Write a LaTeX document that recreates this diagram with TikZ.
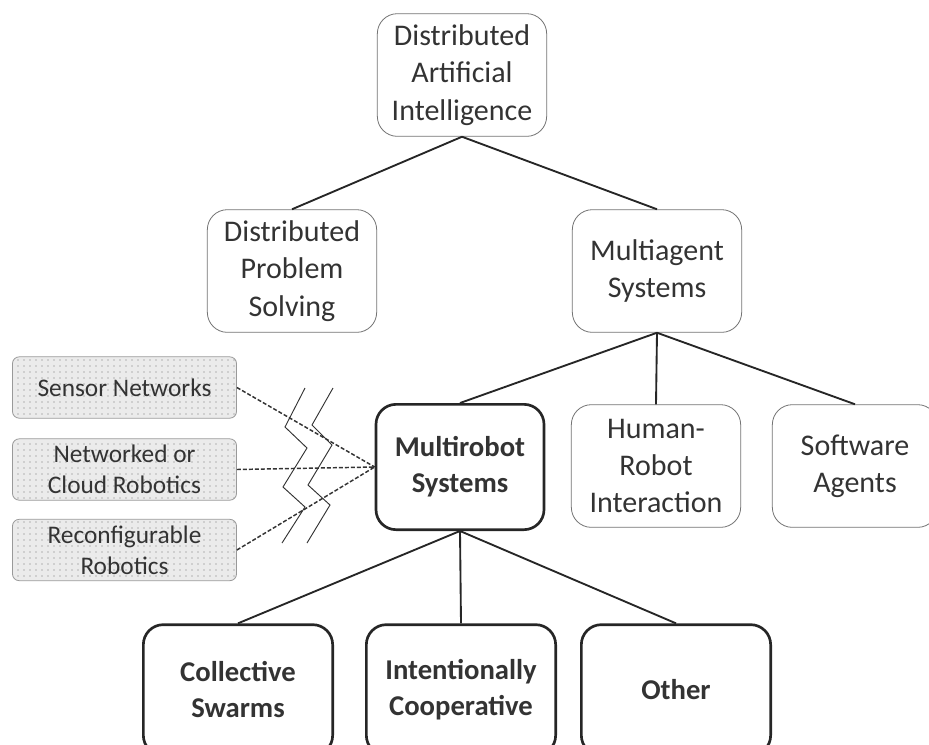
\documentclass[tikz,border=0pt]{standalone}
\usepackage{fontspec}
\setmainfont{Carlito}
\usetikzlibrary{patterns.meta}

\tikzset{
  softbox/.style={draw=black!55, line width=0.6pt, rounded corners=15pt, align=center,
    minimum width=127pt, minimum height=92pt, inner sep=0pt,
    font=\fontsize{22.5}{28}\selectfont, text=black!80},
  boldbox/.style={softbox, draw=black!85, line width=2pt, font=\fontsize{21.5}{27}\selectfont\bfseries},
  dotbox/.style={draw=black!40, line width=0.6pt, rounded corners=5pt, align=center,
    minimum width=168pt, minimum height=46pt, inner sep=0pt,
    preaction={fill=black!8}, pattern={Dots[distance=4.5pt,radius=0.5pt]}, pattern color=black!55,
    font=\fontsize{19}{23.5}\selectfont, text=black!80},
  link/.style={draw=black!85, line width=1.4pt},
  dashlink/.style={draw=black!80, line width=1.1pt, dash pattern=on 3pt off 1.5pt},
  breakline/.style={draw=black!80, line width=0.7pt}
}

\begin{document}
\begin{tikzpicture}[x=0.75pt,y=0.75pt,yscale=-1,xscale=1]
\useasboundingbox (0,0) rectangle (929,744);

%Top level
\node [softbox] (dai) at (462,75) {Distributed\\Artificial\\Intelligence};
\node [softbox] (dps) at (292,271) {Distributed\\Problem\\Solving};
\node [softbox] (mas) at (657,271) {Multiagent\\Systems};

%Multiagent children
\node [boldbox, minimum width=126pt, minimum height=94pt] (mrs) at (460,467) {Multirobot\\Systems};
\node [softbox] (hri) at (656,466) {Human-\\Robot\\Interaction};
\node [softbox, minimum width=124pt] (sa) at (855,466) {Software\\Agents};

%Multirobot children
\node [boldbox, minimum width=142pt, minimum height=98pt] (cs) at (238,690) {Collective\\Swarms};
\node [boldbox, minimum width=142pt, minimum height=98pt] (ic) at (461,690) {Intentionally\\Cooperative};
\node [boldbox, minimum width=142pt, minimum height=98pt] (oth) at (676,690) {Other};

%Related fields
\node [dotbox] (sn) at (124.5,387.5) {Sensor Networks};
\node [dotbox] (nc) at (124.5,469.5) {Networked or\\Cloud Robotics};
\node [dotbox] (rc) at (124.5,550) {Reconfigurable\\Robotics};

%Links
\draw [link] (dai.south) -- (dps.north);
\draw [link] (dai.south) -- (mas.north);
\draw [link] (mas.south) -- (mrs.north);
\draw [link] (mas.south) -- (hri.north);
\draw [link] (mas.south) -- (sa.north);
\draw [link] (mrs.south) -- (cs.north);
\draw [link] (mrs.south) -- (ic.north);
\draw [link] (mrs.south) -- (oth.north);

%Dashed links
\draw [dashlink] (sn.east) -- (mrs.west);
\draw [dashlink] (nc.east) -- (mrs.west);
\draw [dashlink] (rc.east) -- (mrs.west);

%Break marks
\draw [breakline] (305,388) -- (285,427) -- (307,448) -- (283,487) -- (305,507) -- (282,543);
\draw [breakline] (333,388) -- (312,425) -- (332,445) -- (308,485) -- (330,505) -- (307,543);

\end{tikzpicture}
\end{document}
